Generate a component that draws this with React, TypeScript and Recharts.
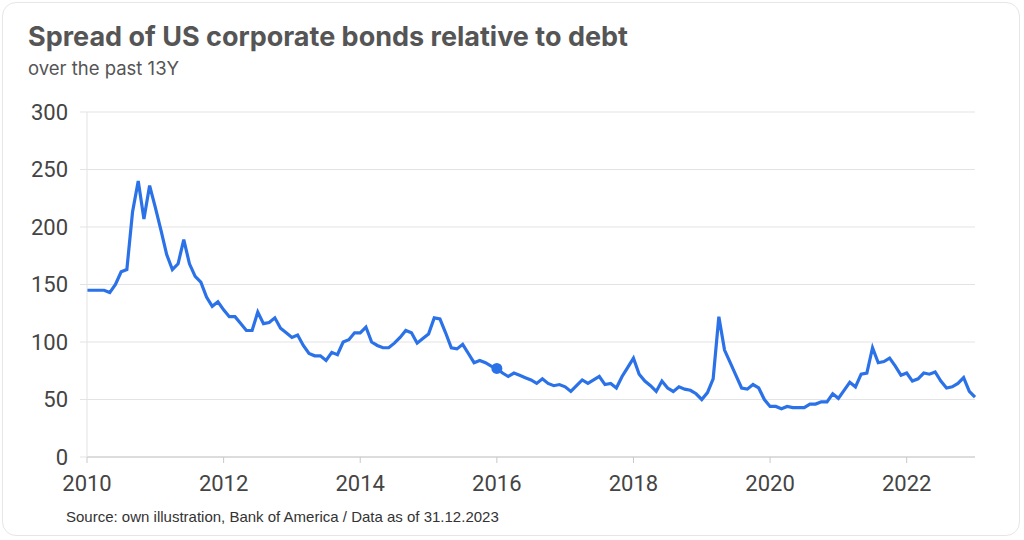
import React from 'react';
import { LineChart, Line, XAxis, YAxis, CartesianGrid, ReferenceDot } from 'recharts';

// monthly spread values, Jan 2010 .. Jan 2023
const spreadValues = [
  145, 145, 145, 145, 143, 150, 161, 163, 213, 240, 207, 236,
  217, 197, 176, 163, 168, 189, 168, 157, 152, 139, 131, 135,
  128, 122, 122, 116, 110, 110, 126, 116, 117, 121, 112, 108,
  104, 106, 97, 90, 88, 88, 84, 91, 89, 100, 102, 108,
  108, 113, 100, 97, 95, 95, 99, 104, 110, 108, 99, 103,
  107, 121, 120, 108, 95, 94, 98, 90, 82, 84, 82, 79,
  77, 73, 70, 73, 71, 69, 67, 64, 68, 64, 62, 63,
  61, 57, 62, 67, 64, 67, 70, 63, 64, 60, 70, 78,
  86, 72, 66, 62, 57, 66, 60, 57, 61, 59, 58, 55,
  50, 56, 68, 122, 93, 82, 71, 60, 59, 63, 60, 50,
  44, 44, 42, 44, 43, 43, 43, 46, 46, 48, 48, 55,
  51, 58, 65, 61, 72, 73, 95, 82, 83, 86, 79, 71,
  73, 66, 68, 73, 72, 74, 66, 60, 61, 64, 69, 57,
  52,
];

const startYear = 2010;
const yearTicks = [2010, 2012, 2014, 2016, 2018, 2020, 2022];
const valueTicks = [0, 50, 100, 150, 200, 250, 300];
const highlightYear = 2016;

const chartData = spreadValues.map((value, i) => ({ month: i, value }));
const xTicks = yearTicks.map((y) => (y - startYear) * 12);
const highlightIndex = (highlightYear - startYear) * 12;

const headFont = 'Inter, "Noto Sans", sans-serif';
const tickFont = 'Roboto, "Noto Sans", sans-serif';
const lineColor = '#2B72E8';

export default function App() {
  return (
    <div
      style={{
        position: 'absolute',
        left: 0,
        top: 0,
        width: 1024,
        height: 540,
        background: '#fff',
        fontFamily: headFont,
      }}
    >
      <div
        style={{
          position: 'absolute',
          left: 2,
          top: 2,
          width: 1016,
          height: 532,
          border: '1px solid #e6e6e6',
          borderRadius: 14,
        }}
      />
      <div
        style={{
          position: 'absolute',
          left: 28,
          top: 21,
          fontSize: 27,
          fontWeight: 700,
          color: '#555',
          lineHeight: '32px',
        }}
      >
        Spread of US corporate bonds relative to debt
      </div>
      <div style={{ position: 'absolute', left: 28, top: 56, fontSize: 18.5, color: '#555', lineHeight: '24px' }}>
        over the past 13Y
      </div>
      <div
        style={{
          position: 'absolute',
          left: 66,
          top: 508,
          fontSize: 15,
          color: '#333',
          fontFamily: '"Liberation Sans", Arial, sans-serif',
        }}
      >
        Source: own illustration, Bank of America / Data as of 31.12.2023
      </div>
      <div style={{ position: 'absolute', left: 0, top: 0 }}>
        <LineChart
          width={1024}
          height={540}
          data={chartData}
          margin={{ top: 112, right: 49, bottom: 43, left: 0 }}
        >
          <CartesianGrid vertical={false} stroke="#e3e3e3" />
          <XAxis
            dataKey="month"
            type="number"
            domain={[0, 156]}
            ticks={xTicks}
            tickFormatter={(m: number) => String(startYear + m / 12)}
            stroke="#c8c8c8"
            tickSize={6}
            tickMargin={12}
            height={40}
            tick={{ fill: '#444', fontSize: 22, fontFamily: tickFont }}
            interval={0}
          />
          <YAxis
            type="number"
            domain={[0, 300]}
            ticks={valueTicks}
            width={87}
            stroke="#e3e3e3"
            tickSize={7}
            tickMargin={12}
            tick={{ fill: '#444', fontSize: 22, fontFamily: tickFont }}
            interval={0}
          />
          <Line
            type="linear"
            dataKey="value"
            stroke={lineColor}
            strokeWidth={3.2}
            dot={false}
            activeDot={false}
            isAnimationActive={false}
          />
          <ReferenceDot
            x={highlightIndex}
            y={spreadValues[highlightIndex]}
            r={5.5}
            fill={lineColor}
            stroke="none"
          />
        </LineChart>
      </div>
    </div>
  );
}
